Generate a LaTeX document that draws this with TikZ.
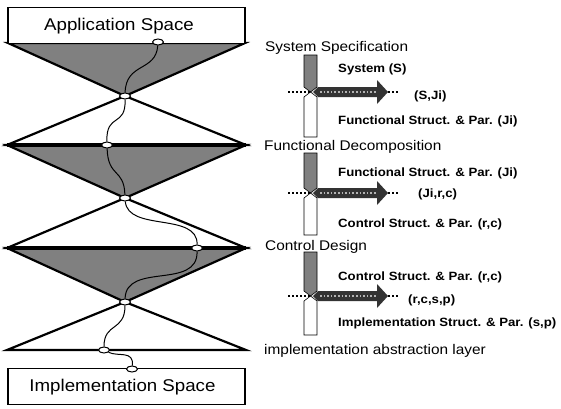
\documentclass[tikz,border=0pt]{standalone}
\usepackage{fontspec}
\setmainfont{Liberation Sans}
\newfontfamily\hfont[FakeStretch=1.1]{Liberation Sans}
\usetikzlibrary{shapes.geometric}
\definecolor{midgray}{HTML}{808080}
\definecolor{darkarrow}{HTML}{333333}
\tikzset{
  tri/.style={line width=2.2pt, line join=miter},
  grayfill/.style={tri, fill=midgray},
  whitefill/.style={tri, fill=white},
  pin/.style={ellipse, draw, line width=1pt, fill=white, minimum width=11pt, minimum height=6pt, inner sep=0pt},
  wire/.style={line width=1pt},
  spacebox/.style={draw, line width=1.3pt, fill=white, minimum width=237pt, minimum height=36pt},
  spacetext/.style={inner sep=0pt, font=\hfont\fontsize{17}{19}\selectfont},
  head/.style={anchor=west, inner sep=0pt, font=\hfont\fontsize{14}{16}\selectfont},
  lab/.style={anchor=west, inner sep=0pt, font=\hfont\bfseries\fontsize{12}{14}\selectfont},
}
\newcommand{\flowgroup}[3]{%
  % #1 top of gray bar, #2 arrow centre y, #3 bottom of white bar
  \fill[midgray, draw=black, line width=0.6pt] (304,#1) -- (317,#1) -- (317,#2-5) -- (310.5,#2) -- (304,#2-5) -- cycle;
  \draw[fill=white, line width=0.6pt] (304,#2+5) -- (310.5,#2) -- (317,#2+5) -- (317,#3) -- (304,#3) -- cycle;
  \draw[black, line width=2pt, dotted] (288,#2) -- (312,#2);
  \draw[black, line width=2pt, dotted] (388,#2) -- (398,#2);
  \fill[darkarrow] (313,#2) -- (318,#2-5) -- (377,#2-5) -- (377,#2-12) -- (388,#2) -- (377,#2+12) -- (377,#2+5) -- (318,#2+5) -- cycle;
  \draw[midgray!60, line width=1.6pt, dotted] (320,#2) -- (376,#2);
}
\begin{document}
\begin{tikzpicture}[x=1pt, y=-1pt]
\useasboundingbox (0,0) rectangle (561,408);
% triangles
\draw[grayfill] (8,43) -- (245,43) -- (125,96) -- cycle;
\draw[whitefill] (125,96) -- (246,145) -- (7,145) -- cycle;
\draw[grayfill] (7,145) -- (246,145) -- (125,198) -- cycle;
\draw[whitefill] (125,198) -- (246,248) -- (7,248) -- cycle;
\draw[grayfill] (7,248) -- (246,248) -- (125,302) -- cycle;
\draw[whitefill] (125,302) -- (246,350) -- (7,350) -- cycle;
\draw[line width=4pt] (7,145) -- (246,145);
\draw[line width=4pt] (7,248) -- (246,248);
% boxes
\node[spacebox] (app) at (126.5,25.5) {};
\node[spacetext] (appt) at (119,26) {Application Space};
\node[spacebox] (impl) at (126.5,386.5) {};
\node[spacetext] (implt) at (122.5,387) {Implementation Space};
% pins
\node[pin] (p0) at (158,42) {};
\node[pin] (p1) at (125,96) {};
\node[pin] (p2) at (107,145) {};
\node[pin] (p3) at (125,198) {};
\node[pin] (p4) at (197,248) {};
\node[pin] (p5) at (125,302) {};
\node[pin] (p6) at (104,350) {};
\node[pin] (p7) at (132,369) {};
% wires
\draw[wire] (p0) .. controls (156,72) and (126,62) .. (p1);
\draw[wire] (p1) .. controls (126,128) and (106,112) .. (p2);
\draw[wire] (p2) .. controls (108,178) and (124,168) .. (p3);
\draw[wire] (p3) .. controls (128,232) and (198,212) .. (p4);
\draw[wire] (p4) .. controls (198,290) and (126,262) .. (p5);
\draw[wire] (p5) .. controls (125,332) and (104,322) .. (p6);
\draw[wire] (p6) .. controls (118,357) and (134,350) .. (p7);
% right side
\node[head] (h1) at (265,48) {System Specification};
\node[head] (h2) at (264,147) {Functional Decomposition};
\node[head] (h3) at (265,247) {Control Design};
\node[head] (h4) at (264,351) {implementation abstraction layer};
\flowgroup{55}{92}{137}
\flowgroup{153}{193}{235}
\flowgroup{252}{296}{335}
\node[lab] (l1) at (338,69) {System (S)};
\node[lab] (t1) at (414,96) {(S,Ji)};
\node[lab] (l2) at (338,121) {Functional Struct. \& Par. (Ji)};
\node[lab] (l3) at (338,173) {Functional Struct. \& Par. (Ji)};
\node[lab] (t2) at (418,194) {(Ji,r,c)};
\node[lab] (l4) at (338,224) {Control Struct. \& Par. (r,c)};
\node[lab] (l5) at (338,277) {Control Struct. \& Par. (r,c)};
\node[lab] (t3) at (408,300) {(r,c,s,p)};
\node[lab] (l6) at (338,323) {Implementation Struct. \& Par. (s,p)};
\end{tikzpicture}
\end{document}
